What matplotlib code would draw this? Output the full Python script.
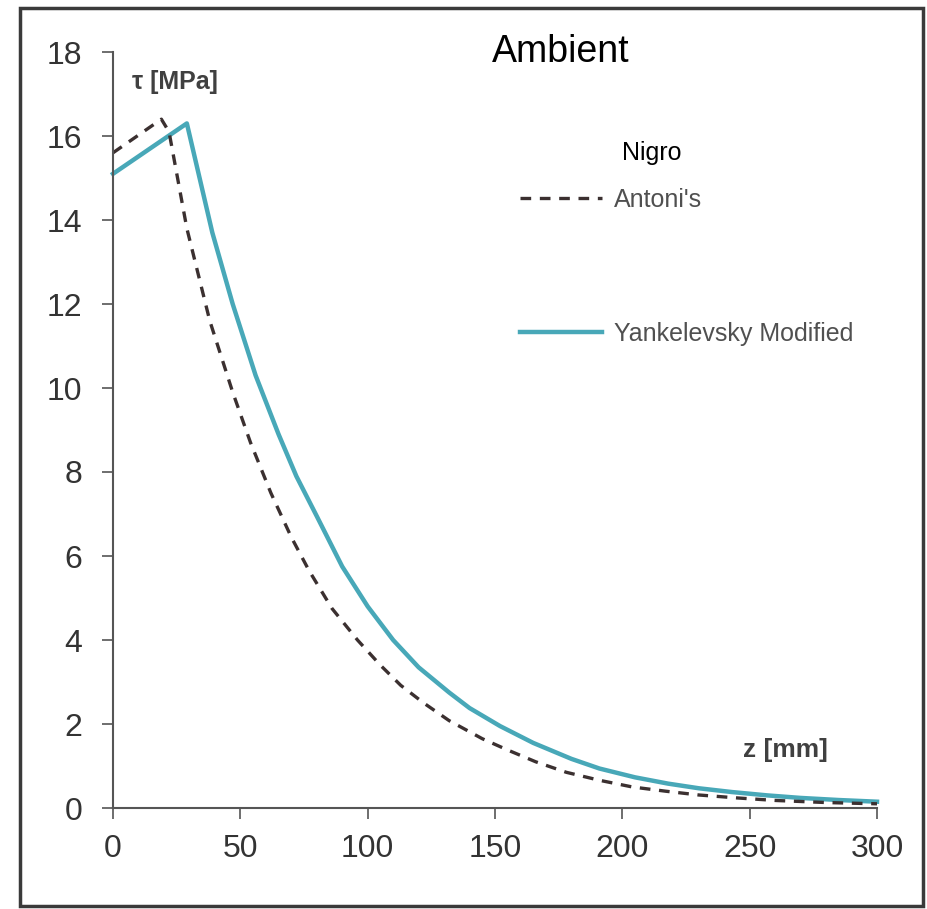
import matplotlib.pyplot as plt
from matplotlib.patches import Rectangle

plt.rcParams['font.family'] = ['Liberation Sans', 'DejaVu Sans']

# Antoni's (dashed)
z_ant = [0, 19, 22, 29, 38, 47, 54, 62, 70, 77, 86, 96, 105, 113, 122, 132, 145, 155, 166,
         178, 191, 204, 217, 230, 245, 260, 280, 300]
tau_ant = [15.6, 16.4, 16.1, 13.8, 11.6, 9.9, 8.7, 7.5, 6.45, 5.65, 4.75, 4.0, 3.4, 2.92, 2.5,
           2.08, 1.65, 1.38, 1.1, 0.85, 0.66, 0.5, 0.4, 0.31, 0.24, 0.18, 0.13, 0.1]

# Yankelevsky Modified (solid)
z_yan = [0, 29, 34, 39, 47, 56, 65, 72, 80, 90, 100, 110, 120, 132, 140, 152, 165, 180, 191,
         205, 218, 230, 243, 257, 270, 285, 300]
tau_yan = [15.1, 16.3, 15.0, 13.7, 12.0, 10.3, 8.9, 7.9, 6.95, 5.75, 4.8, 4.0, 3.35, 2.75,
           2.38, 1.95, 1.55, 1.17, 0.94, 0.73, 0.58, 0.47, 0.38, 0.30, 0.24, 0.19, 0.15]

xticks = [0, 50, 100, 150, 200, 250, 300]
yticks = [0, 2, 4, 6, 8, 10, 12, 14, 16, 18]

W, H = 928, 909
fig = plt.figure(figsize=(W / 100, H / 100), dpi=100)
fig.patch.set_facecolor('white')

# outer frame
fig.patches.append(Rectangle((20 / W, 1 - 906 / H), (923 - 20) / W, (906 - 8) / H,
                             transform=fig.transFigure, fill=False,
                             edgecolor='#3a3a3a', linewidth=2.5))

ax = fig.add_axes([113 / W, 1 - 808 / H, (877 - 113) / W, (808 - 52) / H])

l_yan, = ax.plot(z_yan, tau_yan, color='#48a8b8', linewidth=3.2,
                 label='Yankelevsky Modified', clip_on=False)
l_ant, = ax.plot(z_ant, tau_ant, color='#3b3030', linewidth=2.4,
                 linestyle=(0, (3.2, 2.6)), label="Antoni's", clip_on=False)

ax.set_xlim(0, 300)
ax.set_ylim(0, 18)
ax.set_xticks(xticks)
ax.set_yticks(yticks)

for s in ['top', 'right']:
    ax.spines[s].set_visible(False)
for s in ['left', 'bottom']:
    ax.spines[s].set_color('#555555')
    ax.spines[s].set_linewidth(1.5)

ax.tick_params(axis='both', direction='out', length=8, width=1.2,
               color='#555555', labelsize=23, labelcolor='#333333')
ax.tick_params(axis='y', pad=14)
ax.tick_params(axis='x', pad=11)

ax.text(132 / W, 1 - 82 / H, '\u03c4 [MPa]', transform=fig.transFigure,
        fontsize=18, fontweight='bold', color='#404040', va='center', ha='left')
ax.text(785 / W, 1 - 750 / H, 'z [mm]', transform=fig.transFigure,
        fontsize=19, fontweight='bold', color='#404040', va='center', ha='center')

fig.text(561 / W, 1 - 52 / H, 'Ambient', fontsize=27, color='black',
         ha='center', va='center')
fig.text(652 / W, 1 - 153 / H, 'Nigro', fontsize=18, color='black',
         ha='center', va='center')

leg = ax.legend(handles=[l_ant, l_yan], loc='upper left',
                bbox_to_anchor=(520 / W, 1 - 188 / H), bbox_transform=fig.transFigure,
                frameon=False, fontsize=18, labelcolor='#505050',
                handlelength=3.3, handletextpad=0.45, labelspacing=4.4,
                borderpad=0, borderaxespad=0)

fig.savefig('out.png', dpi=100)
